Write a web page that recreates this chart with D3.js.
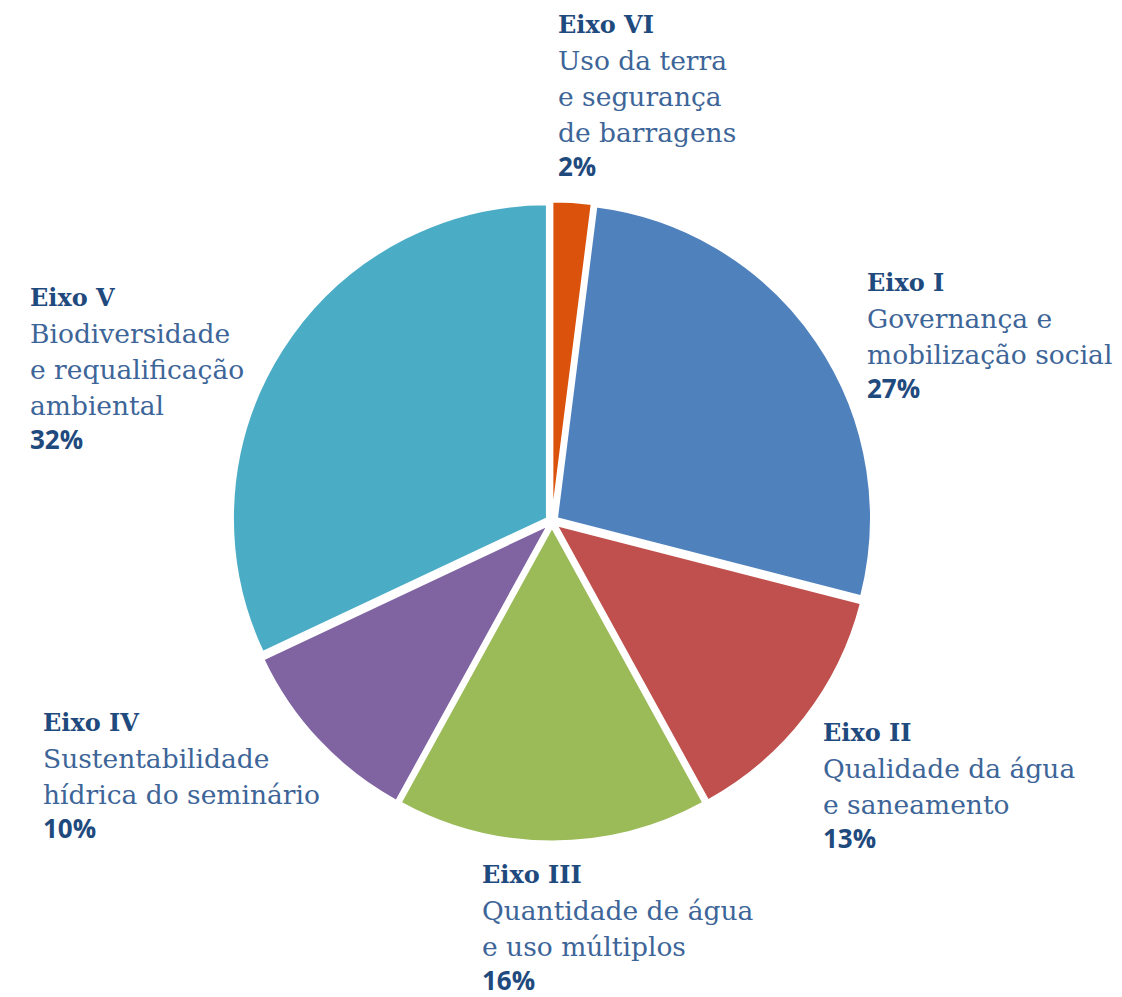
<!DOCTYPE html>
<html>
<head>
<meta charset="utf-8">
<script src="https://cdn.jsdelivr.net/npm/d3@7"></script>
<style>
  body { margin: 0; background: #fff; }
  .eixo { font-family: "DejaVu Serif", serif; font-weight: bold; font-size: 24px; fill: #1f4a7e; }
  .desc { font-family: "DejaVu Serif", serif; font-size: 26.5px; fill: #3d6598; }
  .pct  { font-family: "Open Sans", sans-serif; font-weight: bold; font-size: 26px; fill: #1f4a7e; }
</style>
</head>
<body>
<div id="chart"></div>
<script>
// Data, clockwise from the top
const eixos = ["Eixo VI", "Eixo I", "Eixo II", "Eixo III", "Eixo IV", "Eixo V"]
const descricoes = [
  ["Uso da terra", "e segurança", "de barragens"],
  ["Governança e", "mobilização social"],
  ["Qualidade da água", "e saneamento"],
  ["Quantidade de água", "e uso múltiplos"],
  ["Sustentabilidade", "hídrica do seminário"],
  ["Biodiversidade", "e requalificação", "ambiental"]
]
const percentuais = [2, 27, 13, 16, 10, 32]
const cores = ["#da520c", "#4f81bd", "#c0504d", "#9bbb59", "#8064a2", "#4bacc6"]

// Where each label block starts (left edge, middle of first line)
const labelPos = [[558, 25], [867, 283], [823, 733], [482, 875], [43, 723], [30, 298]]

const width = 1122
const height = 997
const cx = 552, cy = 521.5
const radius = 314
const explode = 6
const lineH = 36

const svg = d3.select("#chart")
  .append("svg")
  .attr("width", width)
  .attr("height", height)

const pie = d3.pie().sort(null).value(d => d)
const arc = d3.arc().innerRadius(0).outerRadius(radius)

const slices = pie(percentuais)

// Slices, pushed out a little along their middle angle
svg.append("g")
  .attr("transform", `translate(${cx},${cy})`)
  .selectAll("path")
  .data(slices)
  .enter()
  .append("path")
  .attr("d", arc)
  .attr("fill", (d, i) => cores[i])
  .attr("stroke", "#fff")
  .attr("stroke-width", 2)
  .attr("transform", d => {
    const a = (d.startAngle + d.endAngle) / 2
    return `translate(${Math.sin(a) * explode},${-Math.cos(a) * explode})`
  })

// Labels
const labels = svg.selectAll("g.label")
  .data(slices)
  .enter()
  .append("g")
  .attr("class", "label")
  .attr("transform", (d, i) => `translate(${labelPos[i][0]},${labelPos[i][1]})`)

labels.append("text")
  .attr("class", "eixo")
  .attr("dy", "0.35em")
  .text((d, i) => eixos[i])

labels.each(function(d, i) {
  const g = d3.select(this)
  descricoes[i].forEach((line, j) => {
    g.append("text")
      .attr("class", "desc")
      .attr("y", (j + 1) * lineH)
      .attr("dy", "0.35em")
      .text(line)
  })
  g.append("text")
    .attr("class", "pct")
    .attr("y", (descricoes[i].length + 1) * lineH - 2)
    .attr("dy", "0.35em")
    .text(percentuais[i] + "%")
})
</script>
</body>
</html>
